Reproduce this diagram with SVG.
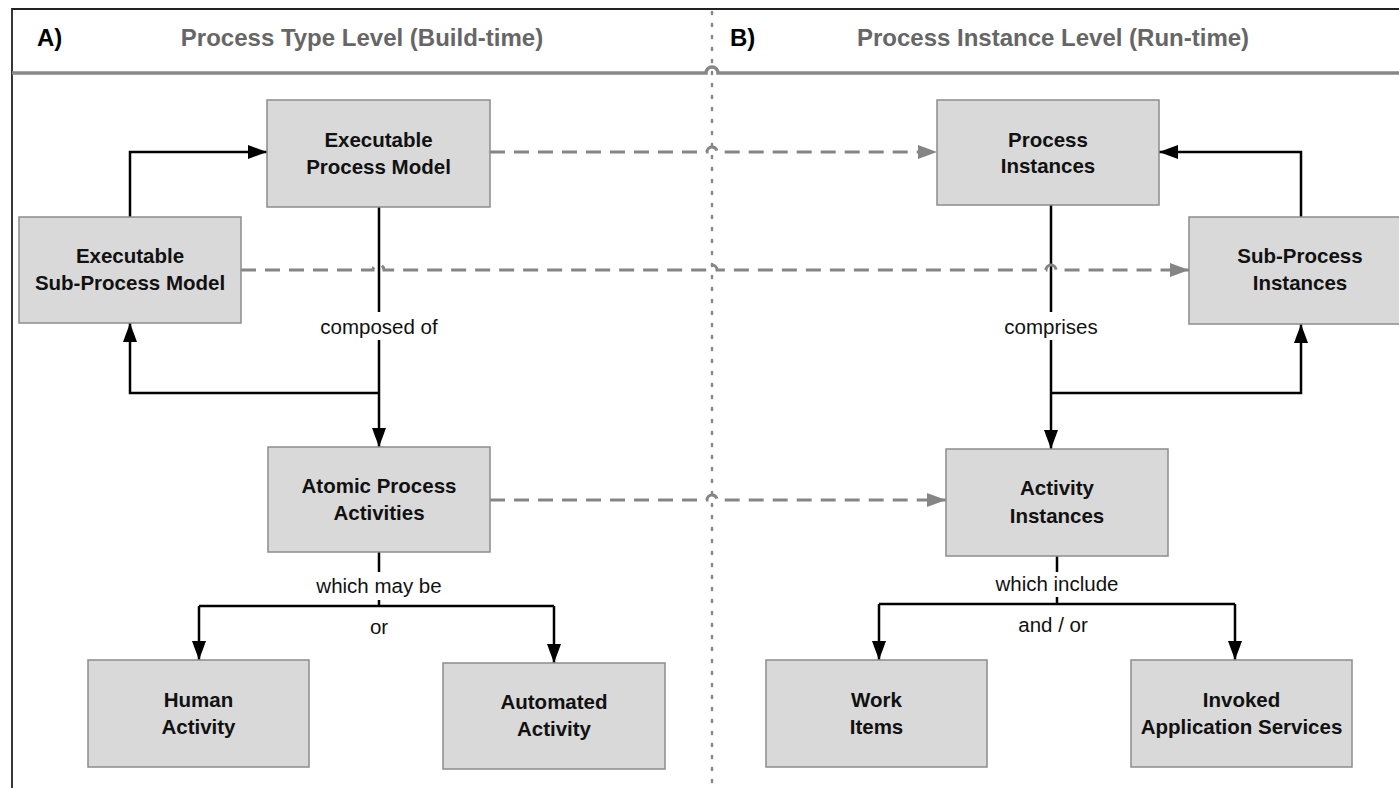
<svg xmlns="http://www.w3.org/2000/svg" width="1399" height="788" viewBox="0 0 1399 788">
<style>
.box{fill:#d9d9d9;stroke:#8c8c8c;stroke-width:1.5}
.bt{font-family:"Liberation Sans",Arial,sans-serif;font-weight:bold;font-size:20.5px;fill:#111;text-anchor:middle}
.lbl{font-family:"Liberation Sans",Arial,sans-serif;font-size:20.5px;fill:#111;text-anchor:middle}
.hdr{font-family:"Liberation Sans",Arial,sans-serif;font-weight:bold;font-size:24px;fill:#666;text-anchor:middle}
.hl{font-family:"Liberation Sans",Arial,sans-serif;font-weight:bold;font-size:24px;fill:#000}
.solid{fill:none;stroke:#000;stroke-width:2.5}
.dash{fill:none;stroke:#858585;stroke-width:3;stroke-dasharray:15 9}
</style>
<defs>
<marker id="ab" markerUnits="userSpaceOnUse" markerWidth="19" markerHeight="14" refX="19" refY="7" orient="auto"><path d="M0,0 L19,7 L0,14 z" fill="#000"/></marker>
<marker id="ag" markerUnits="userSpaceOnUse" markerWidth="19" markerHeight="14" refX="19" refY="7" orient="auto"><path d="M0,0 L19,7 L0,14 z" fill="#858585"/></marker>
</defs>
<rect width="1399" height="788" fill="#fff"/>
<g id="frame">
<path d="M12,788 L12,9 L1399,9" fill="none" stroke="#222" stroke-width="1.8"/>
<path d="M12,73 L706,73 A6,6 0 0 1 718,73 L1399,73" fill="none" stroke="#888" stroke-width="3.5"/>
<line x1="712" y1="12" x2="712" y2="788" stroke="#888" stroke-width="2.5" stroke-dasharray="2 10" stroke-linecap="round"/>
<text class="hl" x="37" y="46">A)</text>
<text class="hdr" x="362" y="46">Process Type Level (Build-time)</text>
<text class="hl" x="730" y="46">B)</text>
<text class="hdr" x="1053" y="46">Process Instance Level (Run-time)</text>
</g>
<g id="connectors">
<path class="solid" d="M130,217 L130,152 L267,152" marker-end="url(#ab)"/>
<path class="solid" d="M379,207 L379,312"/>
<path class="solid" d="M379,340 L379,447" marker-end="url(#ab)"/>
<path class="solid" d="M379,393 L130,393 L130,323" marker-end="url(#ab)"/>
<path class="solid" d="M379,552 L379,572"/>
<path class="solid" d="M379,600 L379,606"/>
<path class="solid" d="M199,606 L554,606"/>
<path class="solid" d="M199,606 L199,660" marker-end="url(#ab)"/>
<path class="solid" d="M554,606 L554,663" marker-end="url(#ab)"/>
<path class="solid" d="M1051,205 L1051,312"/>
<path class="solid" d="M1051,340 L1051,449" marker-end="url(#ab)"/>
<path class="solid" d="M1051,393 L1301,393 L1301,324" marker-end="url(#ab)"/>
<path class="solid" d="M1301,217 L1301,152 L1159,152" marker-end="url(#ab)"/>
<path class="solid" d="M1057,556 L1057,572"/>
<path class="solid" d="M1057,597 L1057,604"/>
<path class="solid" d="M879,604 L1235,604"/>
<path class="solid" d="M879,604 L879,660" marker-end="url(#ab)"/>
<path class="solid" d="M1235,604 L1235,660" marker-end="url(#ab)"/>
<path class="dash" d="M490,152 L707,152 A5,5 0 0 1 717,152 L937,152" marker-end="url(#ag)"/>
<path class="dash" d="M241,270 L373,270 A5,5 0 0 1 384,270 L707,270 A5,5 0 0 1 717,270 L1046,270 A5,5 0 0 1 1056,270 L1189,270" marker-end="url(#ag)"/>
<path class="dash" d="M490,500 L707,500 A5,5 0 0 1 717,500 L946,500" marker-end="url(#ag)"/>
<text class="lbl" x="379" y="334">composed of</text>
<text class="lbl" x="379" y="593">which may be</text>
<text class="lbl" x="379" y="634">or</text>
<text class="lbl" x="1051" y="334">comprises</text>
<text class="lbl" x="1057" y="591">which include</text>
<text class="lbl" x="1053" y="632">and / or</text>
</g>
<g id="n-epm"><rect class="box" x="267" y="100" width="223" height="107"/><text class="bt" x="378.5" y="147">Executable</text><text class="bt" x="378.5" y="174">Process Model</text></g>
<g id="n-espm"><rect class="box" x="19" y="217" width="222" height="106"/><text class="bt" x="130" y="263">Executable</text><text class="bt" x="130" y="290">Sub-Process Model</text></g>
<g id="n-apa"><rect class="box" x="268" y="447" width="222" height="105"/><text class="bt" x="379" y="493">Atomic Process</text><text class="bt" x="379" y="520">Activities</text></g>
<g id="n-ha"><rect class="box" x="88" y="660" width="221" height="107"/><text class="bt" x="198.5" y="707">Human</text><text class="bt" x="198.5" y="734">Activity</text></g>
<g id="n-aa"><rect class="box" x="443" y="663" width="222" height="106"/><text class="bt" x="554" y="709">Automated</text><text class="bt" x="554" y="736">Activity</text></g>
<g id="n-pi"><rect class="box" x="937" y="100" width="222" height="105"/><text class="bt" x="1048" y="147">Process</text><text class="bt" x="1048" y="173">Instances</text></g>
<g id="n-spi"><rect class="box" x="1189" y="217" width="222" height="107"/><text class="bt" x="1300" y="263">Sub-Process</text><text class="bt" x="1300" y="290">Instances</text></g>
<g id="n-ai"><rect class="box" x="946" y="449" width="222" height="107"/><text class="bt" x="1057" y="495">Activity</text><text class="bt" x="1057" y="523">Instances</text></g>
<g id="n-wi"><rect class="box" x="766" y="660" width="221" height="107"/><text class="bt" x="876.5" y="707">Work</text><text class="bt" x="876.5" y="734">Items</text></g>
<g id="n-ias"><rect class="box" x="1131" y="660" width="221" height="107"/><text class="bt" x="1241.5" y="707">Invoked</text><text class="bt" x="1241.5" y="734">Application Services</text></g>
</svg>
